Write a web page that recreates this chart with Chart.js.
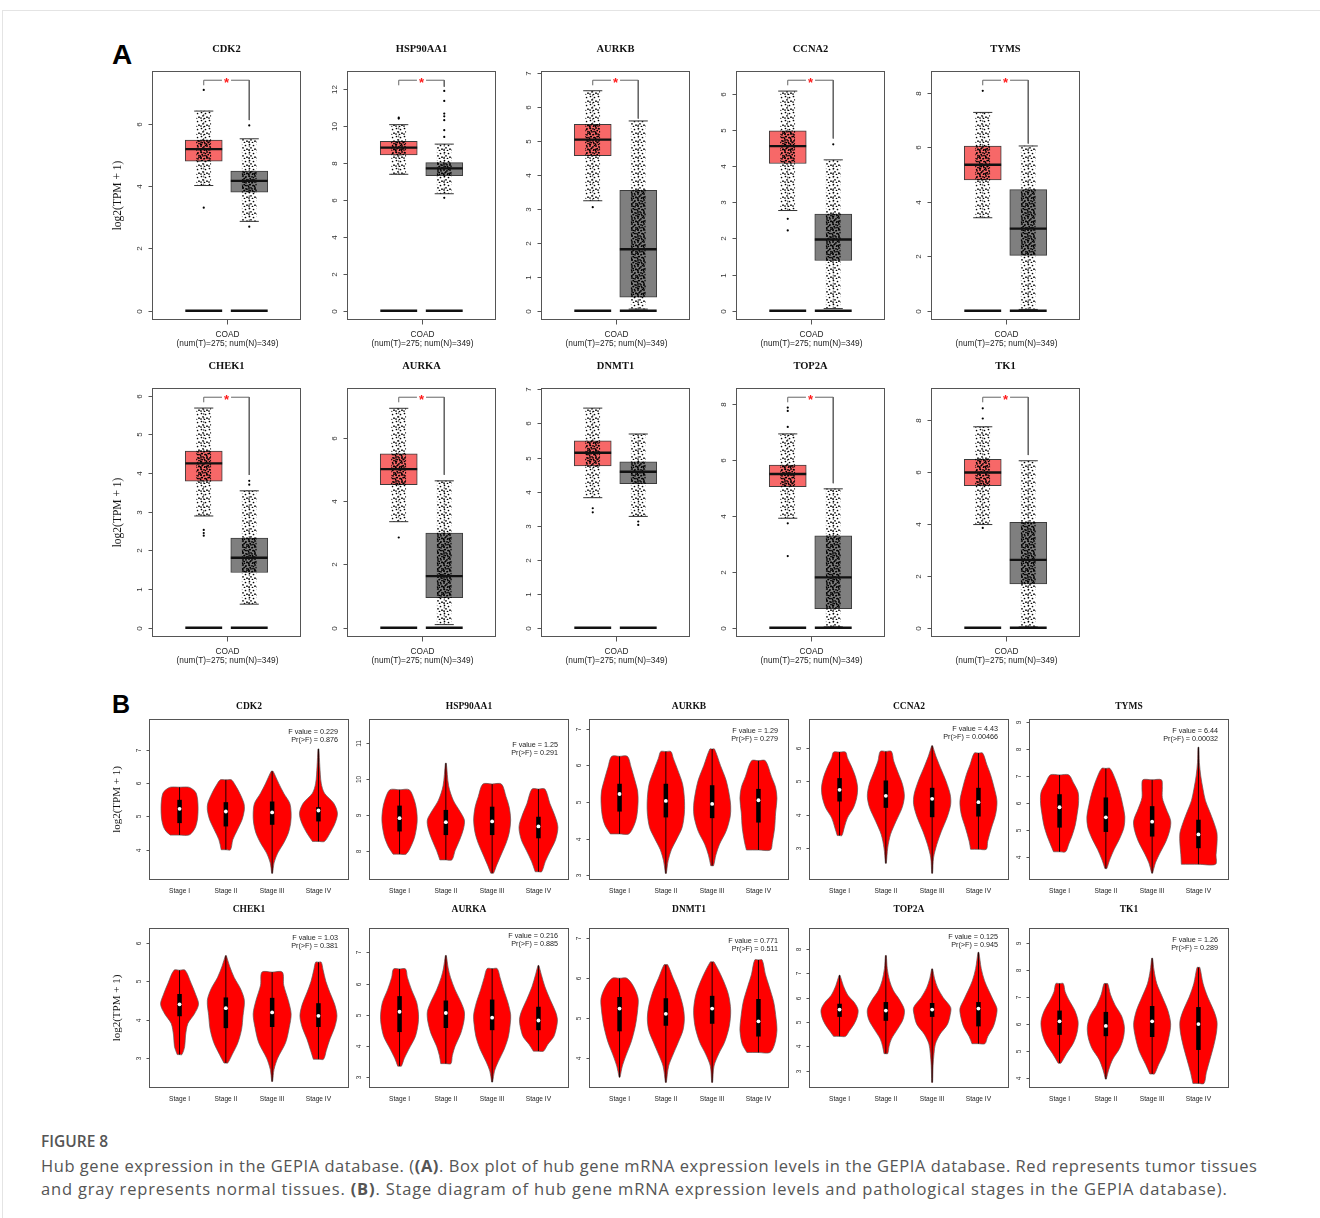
<!DOCTYPE html>
<html>
<head>
<meta charset="utf-8">
<title>Figure 8</title>
<script src="https://cdn.jsdelivr.net/npm/chart.js@4.4.1/dist/chart.umd.min.js"></script>
<style>
  body { margin: 0; background: #fff; }
  #page { position: relative; width: 1320px; height: 1218px; overflow: hidden; background: #fff; }
  #page canvas { position: absolute; }
  .edge { position: absolute; left: 2px; top: 10px; width: 1330px; height: 1220px; border-left: 1px solid #e4e4e4; border-top: 1px solid #e4e4e4; }
  .tag { position: absolute; font-family: 'Liberation Sans', Arial, sans-serif; font-weight: bold; color: #000; }
  .cap { position: absolute; left: 41px; font-family: 'Open Sans', sans-serif; color: #555; white-space: nowrap; }
</style>
</head>
<body>
<div id="page">
  <div class="edge"></div>
  <div class="tag" style="left:112px;top:41px;font-size:28px;line-height:28px">A</div>
  <div class="tag" style="left:112px;top:692px;font-size:25px;line-height:25px">B</div>
  <div class="cap" style="top:1130px;font-size:15.5px;line-height:22px;font-weight:600">FIGURE 8</div>
  <div class="cap" style="top:1154px;font-size:16.5px;line-height:24px;letter-spacing:0.55px">Hub gene expression in the GEPIA database. (<b>(A)</b>. Box plot of hub gene mRNA expression levels in the GEPIA database. Red represents tumor tissues</div>
  <div class="cap" style="top:1177px;font-size:16.5px;line-height:24px;letter-spacing:0.83px">and gray represents normal tissues. <b>(B)</b>. Stage diagram of hub gene mRNA expression levels and pathological stages in the GEPIA database).</div>
</div>
<script>
// ---------- panel A : tumor vs normal box plots, log2(TPM + 1) ----------
const genes = ['CDK2', 'HSP90AA1', 'AURKB', 'CCNA2', 'TYMS', 'CHEK1', 'AURKA', 'DNMT1', 'TOP2A', 'TK1'];
const yTitle = 'log2(TPM + 1)';
const groups = [1, 2]; // tumor, normal
const boxXLabel = ['COAD', '(num(T)=275; num(N)=349)'];

const tumorQ1  = [4.80, 8.41, 4.57, 4.07, 4.80, 3.79, 4.52, 4.75, 5.04, 5.48];
const tumorMed = [5.19, 8.81, 5.04, 4.55, 5.35, 4.25, 5.01, 5.14, 5.49, 5.99];
const tumorQ3  = [5.48, 9.15, 5.49, 4.97, 6.04, 4.57, 5.49, 5.49, 5.81, 6.50];
const tumorLo  = [4.02, 7.37, 3.24, 2.77, 3.41, 2.89, 3.35, 3.82, 3.91, 3.98];
const tumorHi  = [6.41, 10.05, 6.48, 6.07, 7.27, 5.68, 6.93, 6.45, 6.92, 7.75];
const tumorOut = [[7.09, 3.31], [10.38, 10.43], [3.05], [2.54, 2.22], [8.06], [2.53, 2.45, 2.38], [2.85], [3.51, 3.39], [7.86, 7.74, 7.17, 3.73, 2.56], [8.46, 8.07, 3.85]];

const normalQ1  = [3.81, 7.30, 0.40, 1.39, 2.03, 1.43, 0.95, 4.23, 0.68, 1.69];
const normalMed = [4.17, 7.69, 1.81, 1.97, 3.01, 1.81, 1.63, 4.58, 1.80, 2.62];
const normalQ3  = [4.48, 8.00, 3.55, 2.67, 4.44, 2.32, 2.99, 4.87, 3.28, 4.07];
const normalLo  = [2.87, 6.32, 0.05, 0.06, 0.05, 0.61, 0.10, 3.27, 0.03, 0.03];
const normalHi  = [5.52, 9.00, 5.59, 4.17, 6.04, 3.54, 4.64, 5.69, 4.96, 6.44];
const normalOut = [[5.95, 2.70], [11.87, 11.33, 10.65, 10.5, 10.29, 9.75, 9.39, 6.1], [], [4.6], [], [3.8, 3.7], [], [3.12, 3.02], [], []];

const boxTop     = [7.40, 12.45, 6.79, 6.37, 8.45, 5.96, 7.28, 6.77, 8.23, 8.89];
const bracketTop = [7.40, 12.45, 6.79, 6.37, 8.45, 5.96, 7.28, null, 8.23, 8.89];
const bracketEnd = [6.12, 12.10, 5.66, 4.76, 6.13, 3.95, 4.83, null, 5.16, 6.66];
const boxTicks = [[0, 2, 4, 6], [0, 2, 4, 6, 8, 10, 12], [0, 1, 2, 3, 4, 5, 6, 7], [0, 1, 2, 3, 4, 5, 6], [0, 2, 4, 6, 8],
                  [0, 1, 2, 3, 4, 5, 6], [0, 2, 4, 6], [0, 1, 2, 3, 4, 5, 6, 7], [0, 2, 4, 6, 8], [0, 2, 4, 6, 8]];

// ---------- panel B : expression by pathological stage ----------
const stages = ['Stage I', 'Stage II', 'Stage III', 'Stage IV'];
const fValue = ['0.229', '1.25', '1.29', '4.43', '6.44', '1.03', '0.216', '0.771', '0.125', '1.26'];
const pValue = ['0.876', '0.291', '0.279', '0.00466', '0.00032', '0.381', '0.885', '0.511', '0.945', '0.289'];
const vioYMin = [3.09, 7.18, 2.87, 2.04, 3.17, 2.22, 2.66, 3.25, 2.29, 3.63];
const vioYMax = [7.93, 11.66, 7.27, 6.86, 9.10, 6.39, 7.78, 7.26, 8.86, 9.56];
const vioTicks = [[4, 5, 6, 7], [8, 9, 10, 11], [3, 4, 5, 6, 7], [3, 4, 5, 6], [4, 5, 6, 7, 8, 9],
                  [3, 4, 5, 6], [3, 4, 5, 6, 7], [4, 5, 6, 7], [3, 4, 5, 6, 7, 8], [4, 5, 6, 7, 8, 9]];
const vioQ1 = [[4.80, 4.70, 4.75, 4.85], [8.53, 8.43, 8.43, 8.34], [4.74, 4.58, 4.56, 4.44], [4.39, 4.20, 3.92, 3.94], [5.10, 4.94, 4.77, 4.34],
               [4.09, 3.78, 3.81, 3.81], [4.45, 4.58, 4.51, 4.51], [4.67, 4.81, 4.86, 4.54], [5.21, 5.05, 5.21, 4.82], [5.60, 5.55, 5.52, 5.04]];
const vioMed = [[5.23, 5.15, 5.12, 5.18], [8.90, 8.79, 8.81, 8.67], [5.22, 5.03, 4.95, 5.05], [4.74, 4.56, 4.47, 4.37], [5.85, 5.48, 5.32, 4.85],
                [4.40, 4.30, 4.19, 4.10], [5.10, 5.06, 4.91, 4.82], [5.24, 5.11, 5.24, 4.92], [5.51, 5.47, 5.51, 5.55], [6.10, 5.93, 6.10, 6.00]];
const vioQ3 = [[5.50, 5.43, 5.45, 5.28], [9.25, 9.13, 9.22, 8.94], [5.50, 5.50, 5.46, 5.36], [5.09, 5.02, 4.80, 4.80], [6.33, 6.21, 5.89, 5.39],
               [4.67, 4.58, 4.57, 4.43], [5.60, 5.46, 5.49, 5.26], [5.53, 5.50, 5.56, 5.48], [5.75, 5.82, 5.78, 5.82], [6.50, 6.45, 6.67, 6.63]];

// density outline of each violin: [log2 value, half width]
const vioCDK2 = [
  [[4.44, 0.20], [4.55, 0.29], [4.7, 0.35], [4.95, 0.39], [5.25, 0.40], [5.5, 0.39], [5.7, 0.36], [5.8, 0.30], [5.88, 0.20]],
  [[4.0, 0.10], [4.3, 0.15], [4.6, 0.25], [4.9, 0.35], [5.2, 0.40], [5.4, 0.39], [5.7, 0.30], [5.95, 0.20], [6.1, 0.12]],
  [[3.29, 0.01], [3.6, 0.04], [3.9, 0.12], [4.2, 0.25], [4.5, 0.35], [4.8, 0.40], [5.1, 0.41], [5.4, 0.38], [5.7, 0.25], [6.0, 0.14], [6.36, 0.02]],
  [[4.25, 0.13], [4.5, 0.25], [4.8, 0.36], [5.1, 0.41], [5.4, 0.33], [5.7, 0.13], [6.0, 0.06], [6.5, 0.03], [7.03, 0.01]]
];
const vioHSP90AA1 = [
  [[7.90, 0.14], [8.1, 0.24], [8.4, 0.33], [8.8, 0.38], [9.1, 0.37], [9.4, 0.32], [9.69, 0.21]],
  [[7.74, 0.13], [8.0, 0.20], [8.3, 0.30], [8.6, 0.38], [8.85, 0.40], [9.1, 0.30], [9.4, 0.16], [9.8, 0.06], [10.43, 0.01]],
  [[7.37, 0.03], [7.6, 0.10], [7.9, 0.20], [8.2, 0.30], [8.5, 0.37], [8.85, 0.40], [9.2, 0.37], [9.5, 0.30], [9.85, 0.20]],
  [[7.41, 0.07], [7.7, 0.15], [8.0, 0.26], [8.3, 0.37], [8.65, 0.42], [8.95, 0.36], [9.3, 0.25], [9.71, 0.14]]
];
const vioAURKB = [
  [[4.13, 0.20], [4.35, 0.31], [4.6, 0.37], [5.0, 0.40], [5.3, 0.39], [5.6, 0.33], [5.95, 0.25], [6.25, 0.17]],
  [[3.05, 0.01], [3.4, 0.05], [3.7, 0.12], [4.0, 0.24], [4.3, 0.35], [4.7, 0.40], [5.1, 0.40], [5.5, 0.36], [5.9, 0.25], [6.2, 0.16], [6.38, 0.11]],
  [[3.26, 0.03], [3.55, 0.08], [3.85, 0.16], [4.2, 0.30], [4.6, 0.39], [4.9, 0.40], [5.2, 0.37], [5.6, 0.30], [6.0, 0.18], [6.45, 0.05]],
  [[3.69, 0.26], [3.9, 0.30], [4.3, 0.35], [4.7, 0.37], [5.1, 0.40], [5.4, 0.37], [5.7, 0.28], [6.13, 0.15]]
];
const vioCCNA2 = [
  [[3.37, 0.05], [3.6, 0.10], [3.9, 0.17], [4.2, 0.30], [4.5, 0.37], [4.8, 0.39], [5.1, 0.35], [5.4, 0.27], [5.7, 0.17], [5.87, 0.13]],
  [[2.54, 0.01], [3.0, 0.04], [3.4, 0.10], [3.8, 0.22], [4.2, 0.35], [4.55, 0.40], [4.9, 0.36], [5.3, 0.25], [5.6, 0.17], [5.89, 0.12]],
  [[2.24, 0.01], [2.7, 0.03], [3.1, 0.10], [3.5, 0.20], [3.9, 0.32], [4.3, 0.40], [4.6, 0.39], [5.0, 0.30], [5.4, 0.18], [5.75, 0.08], [6.06, 0.01]],
  [[2.96, 0.17], [3.2, 0.20], [3.6, 0.28], [4.0, 0.37], [4.4, 0.40], [4.8, 0.34], [5.2, 0.26], [5.5, 0.18], [5.84, 0.09]]
];
const vioTYMS = [
  [[4.21, 0.13], [4.5, 0.20], [4.8, 0.27], [5.2, 0.34], [5.6, 0.38], [6.0, 0.41], [6.4, 0.40], [6.75, 0.30], [7.04, 0.20]],
  [[3.59, 0.02], [3.9, 0.08], [4.3, 0.18], [4.7, 0.30], [5.1, 0.39], [5.5, 0.41], [5.9, 0.37], [6.4, 0.30], [6.9, 0.20], [7.28, 0.09]],
  [[3.42, 0.01], [3.8, 0.07], [4.2, 0.18], [4.6, 0.30], [5.0, 0.38], [5.35, 0.40], [5.8, 0.30], [6.2, 0.22], [6.6, 0.22], [6.86, 0.20]],
  [[3.75, 0.37], [4.1, 0.38], [4.5, 0.40], [4.9, 0.40], [5.3, 0.33], [5.7, 0.24], [6.1, 0.15], [6.5, 0.10], [7.0, 0.05], [7.5, 0.02], [8.06, 0.01]]
];
const vioCHEK1 = [
  [[3.09, 0.05], [3.3, 0.11], [3.6, 0.13], [3.9, 0.18], [4.15, 0.32], [4.4, 0.41], [4.65, 0.35], [4.95, 0.25], [5.29, 0.12]],
  [[2.87, 0.04], [3.1, 0.14], [3.4, 0.26], [3.75, 0.34], [4.1, 0.37], [4.5, 0.40], [4.8, 0.32], [5.1, 0.18], [5.4, 0.08], [5.67, 0.01]],
  [[2.39, 0.01], [2.7, 0.04], [3.0, 0.12], [3.4, 0.29], [3.8, 0.37], [4.15, 0.41], [4.5, 0.35], [4.9, 0.25], [5.24, 0.22]],
  [[2.97, 0.11], [3.2, 0.17], [3.5, 0.25], [3.8, 0.35], [4.1, 0.40], [4.4, 0.35], [4.7, 0.25], [5.0, 0.16], [5.3, 0.10], [5.5, 0.06]]
];
const vioAURKA = [
  [[3.36, 0.04], [3.6, 0.10], [3.9, 0.20], [4.3, 0.34], [4.7, 0.40], [5.0, 0.41], [5.4, 0.37], [5.8, 0.26], [6.2, 0.17], [6.47, 0.13]],
  [[3.44, 0.11], [3.7, 0.14], [4.0, 0.20], [4.4, 0.32], [4.8, 0.39], [5.1, 0.40], [5.4, 0.33], [5.8, 0.20], [6.2, 0.10], [6.5, 0.05], [6.9, 0.01]],
  [[2.85, 0.01], [3.2, 0.05], [3.5, 0.13], [3.9, 0.26], [4.3, 0.35], [4.7, 0.39], [5.0, 0.40], [5.4, 0.34], [5.8, 0.25], [6.2, 0.17], [6.48, 0.11]],
  [[3.84, 0.11], [4.05, 0.20], [4.3, 0.33], [4.6, 0.39], [4.85, 0.41], [5.1, 0.37], [5.5, 0.25], [5.9, 0.14], [6.3, 0.06], [6.58, 0.01]]
];
const vioDNMT1 = [
  [[3.52, 0.01], [3.8, 0.06], [4.1, 0.15], [4.4, 0.25], [4.8, 0.34], [5.2, 0.39], [5.5, 0.40], [5.8, 0.30], [6.0, 0.16]],
  [[3.39, 0.01], [3.8, 0.06], [4.1, 0.16], [4.4, 0.27], [4.7, 0.37], [5.0, 0.40], [5.3, 0.37], [5.7, 0.27], [6.0, 0.16], [6.34, 0.04]],
  [[3.39, 0.01], [3.8, 0.04], [4.1, 0.14], [4.4, 0.27], [4.8, 0.37], [5.2, 0.40], [5.6, 0.35], [6.0, 0.22], [6.41, 0.04]],
  [[4.14, 0.25], [4.35, 0.35], [4.7, 0.40], [5.0, 0.38], [5.4, 0.33], [5.8, 0.23], [6.1, 0.15], [6.46, 0.08]]
];
const vioTOP2A = [
  [[4.41, 0.13], [4.6, 0.20], [4.9, 0.31], [5.2, 0.38], [5.5, 0.40], [5.8, 0.32], [6.1, 0.18], [6.5, 0.08], [6.92, 0.01]],
  [[3.70, 0.04], [4.0, 0.07], [4.3, 0.12], [4.7, 0.25], [5.1, 0.37], [5.5, 0.40], [5.9, 0.30], [6.3, 0.16], [6.7, 0.08], [7.2, 0.03], [7.73, 0.01]],
  [[2.52, 0.01], [3.2, 0.02], [3.7, 0.04], [4.1, 0.07], [4.5, 0.17], [4.9, 0.33], [5.3, 0.39], [5.6, 0.40], [6.0, 0.24], [6.4, 0.12], [6.8, 0.05], [7.18, 0.01]],
  [[4.11, 0.14], [4.4, 0.20], [4.8, 0.32], [5.2, 0.38], [5.55, 0.40], [5.9, 0.32], [6.3, 0.22], [6.7, 0.13], [7.2, 0.06], [7.86, 0.01]]
];
const vioTK1 = [
  [[4.55, 0.03], [4.9, 0.15], [5.3, 0.30], [5.7, 0.38], [6.1, 0.40], [6.5, 0.33], [6.9, 0.20], [7.2, 0.12], [7.5, 0.08]],
  [[3.96, 0.01], [4.3, 0.06], [4.7, 0.15], [5.1, 0.30], [5.5, 0.38], [5.9, 0.40], [6.3, 0.34], [6.7, 0.20], [7.1, 0.10], [7.5, 0.04]],
  [[4.15, 0.05], [4.5, 0.14], [5.0, 0.28], [5.5, 0.36], [6.0, 0.40], [6.5, 0.34], [7.0, 0.22], [7.5, 0.10], [8.0, 0.04], [8.44, 0.01]],
  [[3.80, 0.12], [4.2, 0.17], [4.7, 0.25], [5.2, 0.33], [5.7, 0.39], [6.1, 0.40], [6.5, 0.33], [7.0, 0.20], [7.5, 0.10], [8.1, 0.03]]
];
const vioShapes = [vioCDK2, vioHSP90AA1, vioAURKB, vioCCNA2, vioTYMS, vioCHEK1, vioAURKA, vioDNMT1, vioTOP2A, vioTK1];

// ---------- layout ----------
const SANS = "'Liberation Sans', Arial, sans-serif";
const SERIF = "'Liberation Serif', 'Times New Roman', serif";
const boxFrame = {lefts: [152, 346.7, 541.4, 736.1, 930.8], tops: [71, 388], w: 149, h: 249};
const boxPad = {left: 48, right: 8, top: 40, bottom: 36};
const vioFrame = {lefts: [149, 369.1, 589.2, 809.3, 1029.4], tops: [719, 928], w: 200, h: [161, 160]};
const vioPad = {left: 45, right: 8, top: 30, bottom: 22};
const vioTitleGap = [12.5, 18];
const noteTop = [13, 26, 12, 10, 12, 10, 8, 13, 9, 12];
const HALF = 0.405, CAP = 0.21;

function makeCanvas(left, top, w, h) {
  var cv = document.createElement('canvas');
  cv.width = w; cv.height = h;
  cv.style.left = left + 'px'; cv.style.top = top + 'px';
  cv.style.width = w + 'px'; cv.style.height = h + 'px';
  document.getElementById('page').appendChild(cv);
  return cv;
}

function stipple(size, dots, r) {
  var c = document.createElement('canvas');
  c.width = size; c.height = size;
  var g = c.getContext('2d');
  g.fillStyle = '#000';
  dots.forEach(function(d) { g.beginPath(); g.arc(d[0], d[1], r, 0, 2 * Math.PI); g.fill(); });
  return g.createPattern(c, 'repeat');
}
var sparseDots = stipple(8, [[1.5, 1.5], [5.5, 2.5], [3, 4.8], [7, 6.2], [1, 7], [4.5, 7.5]], 0.85);
var denseDots = stipple(6, [[1, 1], [4, 1.8], [2.2, 3.6], [5, 4.6], [0.5, 5.2]], 0.9);

// line pieces joined with gaps
function segs(list) {
  var out = [];
  list.forEach(function(s, k) {
    if (k) out.push({x: s[0][0], y: null});
    s.forEach(function(p) { out.push({x: p[0], y: p[1]}); });
  });
  return out;
}
function lineSet(data, color, width, order, extra) {
  return Object.assign({type: 'line', data: data, borderColor: color, borderWidth: width, pointRadius: 0,
    fill: false, tension: 0, order: order}, extra || {});
}

const decor = {
  id: 'decor',
  afterDatasetsDraw(chart, args, o) {
    var ctx = chart.ctx, a = chart.chartArea, x = chart.scales.x, y = chart.scales.y;
    var L = Math.round(a.left) + 0.5, R = Math.round(a.right) - 0.5, T = Math.round(a.top) + 0.5, B = Math.round(a.bottom) - 0.5;
    ctx.save();
    ctx.strokeStyle = '#555'; ctx.lineWidth = 1;
    ctx.strokeRect(L, T, R - L, B - T);
    ctx.textAlign = 'center'; ctx.textBaseline = 'middle';
    ctx.fillStyle = '#333'; ctx.font = o.tickFont;
    o.ticks.forEach(function(v) {
      var py = Math.round(y.getPixelForValue(v)) + 0.5;
      ctx.beginPath(); ctx.moveTo(L, py); ctx.lineTo(L - o.tickLen, py); ctx.stroke();
      ctx.save(); ctx.translate(L - o.tickGap, py); ctx.rotate(-Math.PI / 2);
      ctx.fillText(String(v), 0, 0); ctx.restore();
    });
    ctx.fillStyle = '#111'; ctx.font = o.titleFont;
    ctx.fillText(o.title, (a.left + a.right) / 2, a.top - o.titleGap);
    if (o.ylab) {
      ctx.save(); ctx.translate(a.left - o.ylabGap, (a.top + a.bottom) / 2); ctx.rotate(-Math.PI / 2);
      ctx.font = o.ylabFont; ctx.fillText(yTitle, 0, 0); ctx.restore();
    }
    ctx.fillStyle = '#222'; ctx.font = o.xFont;
    if (o.kind === 'box') {
      var cx = Math.round(x.getPixelForValue((groups[0] + groups[1]) / 2)) + 0.5;
      ctx.beginPath(); ctx.moveTo(cx, B); ctx.lineTo(cx, B + 5); ctx.stroke();
      ctx.fillText(boxXLabel[0], cx, B + 15.5);
      ctx.fillText(boxXLabel[1], cx, B + 24.5);
      if (o.star != null) {
        ctx.fillStyle = '#ff1a1a'; ctx.font = 'bold 13px ' + SANS;
        ctx.fillText('*', x.getPixelForValue((groups[0] + groups[1]) / 2), y.getPixelForValue(o.star) + 3.5);
      }
    } else {
      stages.forEach(function(s, k) { ctx.fillText(s, x.getPixelForValue(k + 1), B + 12); });
      ctx.textAlign = 'right'; ctx.font = o.noteFont;
      ctx.fillText(o.note[0], a.right - 11, a.top + o.noteTop);
      ctx.fillText(o.note[1], a.right - 11, a.top + o.noteTop + 8);
    }
    ctx.restore();
  }
};

function boxSets(i) {
  var T = groups[0], N = groups[1];
  var sets = [];
  sets.push({type: 'bar', data: [{x: T, y: [tumorQ1[i], tumorQ3[i]]}], backgroundColor: '#f76868', borderColor: '#3c3c3c',
    borderWidth: 1, borderSkipped: false, barThickness: 37, grouped: false, order: 9});
  sets.push({type: 'bar', data: [{x: N, y: [normalQ1[i], normalQ3[i]]}], backgroundColor: '#7f7f7f', borderColor: '#3c3c3c',
    borderWidth: 1, borderSkipped: false, barThickness: 37, grouped: false, order: 9});
  sets.push(lineSet(segs([[[T, tumorLo[i]], [T, tumorQ1[i]]], [[T, tumorQ3[i]], [T, tumorHi[i]]],
    [[N, normalLo[i]], [N, normalQ1[i]]], [[N, normalQ3[i]], [N, normalHi[i]]]]), '#333', 0.8, 8, {borderDash: [2, 2]}));
  // jittered samples: stipple across the whisker span, denser within the box
  sets.push({type: 'bar', data: [{x: T, y: [tumorLo[i], tumorHi[i]]}, {x: N, y: [normalLo[i], normalHi[i]]}],
    backgroundColor: sparseDots, borderWidth: 0, barThickness: 14, grouped: false, order: 7});
  sets.push({type: 'bar', data: [{x: T, y: [tumorQ1[i], tumorQ3[i]]}, {x: N, y: [normalQ1[i], normalQ3[i]]}],
    backgroundColor: denseDots, borderWidth: 0, barThickness: 14, grouped: false, order: 6});
  sets.push({type: 'scatter', data: tumorOut[i].map(function(v) { return {x: T, y: v}; })
    .concat(normalOut[i].map(function(v) { return {x: N, y: v}; })),
    pointRadius: 1.1, backgroundColor: '#000', borderWidth: 0, order: 5});
  sets.push(lineSet(segs([[[T - CAP, tumorHi[i]], [T + CAP, tumorHi[i]]], [[T - CAP, tumorLo[i]], [T + CAP, tumorLo[i]]],
    [[N - CAP, normalHi[i]], [N + CAP, normalHi[i]]], [[N - CAP, normalLo[i]], [N + CAP, normalLo[i]]]]), '#333', 1, 4));
  sets.push(lineSet(segs([[[T - HALF, tumorMed[i]], [T + HALF, tumorMed[i]]], [[N - HALF, normalMed[i]], [N + HALF, normalMed[i]]],
    [[T - HALF, 0], [T + HALF, 0]], [[N - HALF, 0], [N + HALF, 0]]]), '#111', 2.4, 2, {borderCapStyle: 'butt'}));
  if (bracketTop[i] != null) {
    var t = bracketTop[i], d = 0.022 * boxTop[i], mid = (T + N) / 2;
    sets.push(lineSet(segs([[[T, t - d], [T, t], [mid - 0.1, t]], [[mid + 0.1, t], [N, t], [N, bracketEnd[i]]]]), '#666', 1, 1));
  }
  return sets;
}

function vioSets(g) {
  var sets = [];
  vioShapes[g].forEach(function(prof, s) {
    var c = s + 1, n = prof.length;
    var bot = prof[0][0], top = prof[n - 1][0];
    var pts = prof.map(function(p) { return {x: c - p[1], y: p[0]}; });
    pts.push({x: c, y: top});
    for (var k = n - 1; k >= 0; k--) pts.push({x: c + prof[k][1], y: prof[k][0]});
    pts.push({x: c, y: bot});
    pts.push({x: c - prof[0][1], y: bot});
    sets.push({type: 'line', data: pts, fill: 'shape', backgroundColor: '#ff0000', borderColor: '#5a5a5a',
      borderWidth: 0.7, tension: 0.3, pointRadius: 0, order: 10});
    sets.push(lineSet([{x: c, y: bot}, {x: c, y: top}], '#000', 0.9, 5));
    sets.push(lineSet([{x: c, y: vioQ1[g][s]}, {x: c, y: vioQ3[g][s]}], '#000', 4.5, 4, {borderCapStyle: 'butt'}));
  });
  sets.push({type: 'scatter', data: vioMed[g].map(function(m, s) { return {x: s + 1, y: m}; }),
    pointRadius: 1.9, backgroundColor: '#fff', borderWidth: 0, order: 1});
  return sets;
}

function baseOptions(pad, xr, yr, deco) {
  return {
    responsive: false, animation: false, events: [],
    layout: {padding: pad},
    scales: {
      x: {type: 'linear', display: false, offset: false, grid: {offset: false}, min: xr[0], max: xr[1]},
      y: {type: 'linear', display: false, offset: false, beginAtZero: false, min: yr[0], max: yr[1]}
    },
    plugins: {legend: {display: false}, tooltip: {enabled: false}, decor: deco}
  };
}

genes.forEach(function(gene, i) {
  var col = i % 5, row = Math.floor(i / 5);
  // box plot
  var fl = boxFrame.lefts[col], ft = boxFrame.tops[row];
  var cv = makeCanvas(Math.round(fl - boxPad.left), ft - boxPad.top,
    boxPad.left + boxFrame.w + boxPad.right, boxPad.top + boxFrame.h + boxPad.bottom);
  var M = boxTop[i];
  new Chart(cv, {
    type: 'scatter',
    data: {datasets: boxSets(i)},
    options: baseOptions(boxPad, [-0.137, 3.137], [-0.04 * M, 1.04 * M], {
      kind: 'box', title: gene, ticks: boxTicks[i], star: bracketTop[i], ylab: col === 0,
      tickFont: '8px ' + SANS, tickLen: 4, tickGap: 13,
      titleFont: 'bold 10.5px ' + SERIF, titleGap: 22,
      ylabFont: '11.5px ' + SERIF, ylabGap: 34, xFont: '8.3px ' + SANS
    }),
    plugins: [decor]
  });
  // violin plot
  var vl = vioFrame.lefts[col], vt = vioFrame.tops[row], vh = vioFrame.h[row];
  var cv2 = makeCanvas(Math.round(vl - vioPad.left), vt - vioPad.top,
    vioPad.left + vioFrame.w + vioPad.right, vioPad.top + vh + vioPad.bottom);
  new Chart(cv2, {
    type: 'scatter',
    data: {datasets: vioSets(i)},
    options: baseOptions(vioPad, [0.34, 4.66], [vioYMin[i], vioYMax[i]], {
      kind: 'vio', title: gene, ticks: vioTicks[i], ylab: col === 0,
      note: ['F value = ' + fValue[i], 'Pr(>F) = ' + pValue[i]], noteTop: noteTop[i],
      tickFont: '6.5px ' + SANS, tickLen: 3, tickGap: 10,
      titleFont: 'bold 9.5px ' + SERIF, titleGap: vioTitleGap[row],
      ylabFont: '11px ' + SERIF, ylabGap: 32, xFont: '6.6px ' + SANS, noteFont: '7.2px ' + SANS
    }),
    plugins: [decor]
  });
});
</script>
</body>
</html>
